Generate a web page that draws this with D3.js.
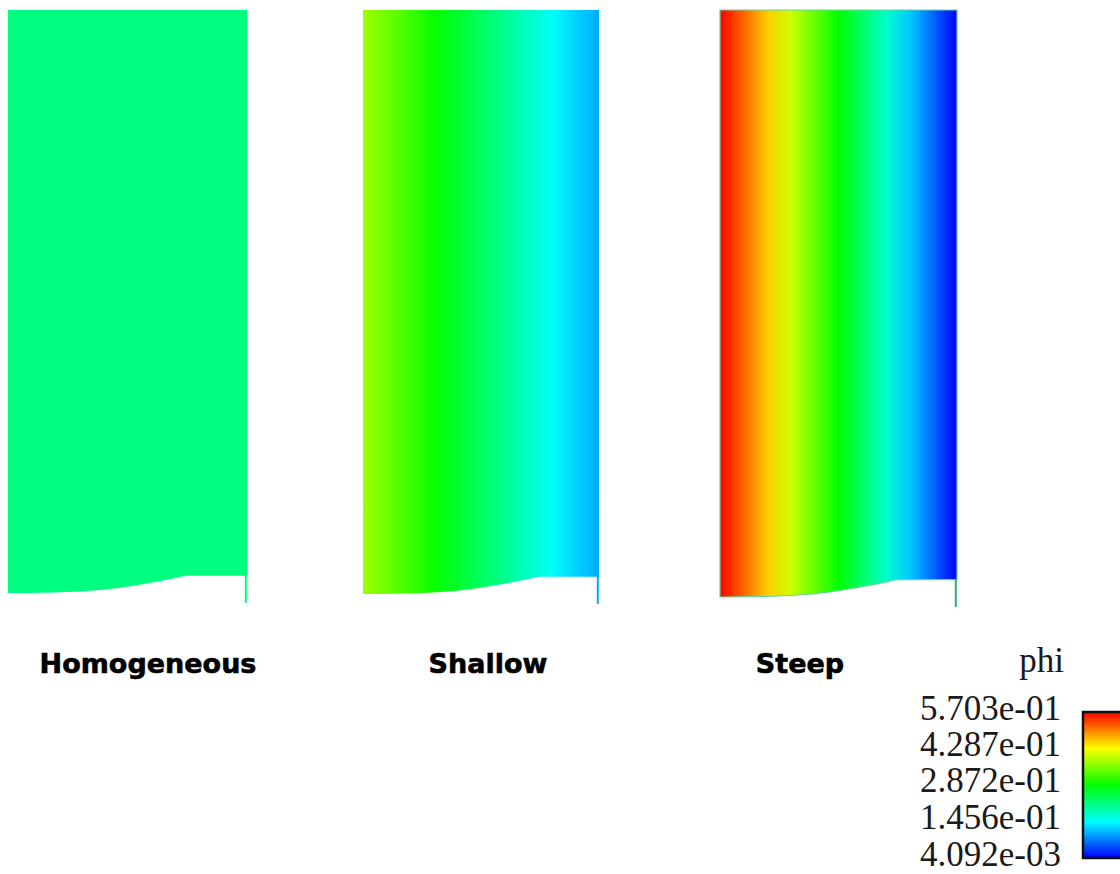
<!DOCTYPE html>
<html>
<head>
<meta charset="utf-8">
<script src="https://cdn.jsdelivr.net/npm/d3@7"></script>
<style>
  body { margin: 0; background: #fff; }
  svg { display: block; }
  .title { font-family: "DejaVu Sans", sans-serif; font-weight: bold; font-size: 27px; fill: #000; stroke: #000; stroke-width: 0.6px; }
  .lgd { font-family: "Liberation Serif", "Times New Roman", serif; font-size: 35px; fill: #1a1a1a; }
</style>
</head>
<body>
<svg id="chart" width="1120" height="874"></svg>
<script>
/** Case names, one per panel */
var caseNames = ['Homogeneous', 'Shallow', 'Steep'];

/** Sample positions across each panel (0 = left wall, 1 = right wall) */
var sampleX = [0, 0.1, 0.2, 0.3, 0.4, 0.5, 0.6, 0.7, 0.8, 0.9, 1];

/** phi at the sample positions */
var phiHomogeneous = [0.216, 0.216, 0.216, 0.216, 0.216, 0.216, 0.216, 0.216, 0.216, 0.216, 0.216];
var phiShallow = [0.376, 0.348, 0.320, 0.292, 0.263, 0.235, 0.207, 0.178, 0.150, 0.122, 0.099];
var phiSteep = [0.570, 0.514, 0.457, 0.400, 0.344, 0.287, 0.231, 0.174, 0.117, 0.061, 0.004];

/** Bottom boundary of the domain (depth as fraction of the left wall height) */
var bottomX = [0, 0.147, 0.248, 0.387, 0.525, 0.639, 0.744];
var bottomDepth = [1, 0.9995, 0.9983, 0.9949, 0.9875, 0.9794, 0.9703];
var rightWallEnd = 1.017;

/** Colour bar */
var phiMin = 4.092e-03, phiMax = 5.703e-01;
var tickValues = [5.703e-01, 4.287e-01, 2.872e-01, 1.456e-01, 4.092e-03];
var tickLabels = ['5.703e-01', '4.287e-01', '2.872e-01', '1.456e-01', '4.092e-03'];
var rainbow = ['#0000ff', '#00ffff', '#00ff00', '#ffff00', '#ff0000'];

var phiData = [phiHomogeneous, phiShallow, phiSteep];

/** Layout of the three panels */
var panels = [
    { x0: 8,   x1: 247, top: 10, bottom: 593, titleX: 148, wall: '#00ff80', outline: 'none' },
    { x0: 363, x1: 599, top: 10, bottom: 594, titleX: 488, wall: '#00a6ff', outline: 'none' },
    { x0: 720, x1: 957, top: 10, bottom: 597, titleX: 800, wall: '#2fae74', outline: '#62d898' }
];
var titleY = 673;

var colorScale = d3.scaleLinear()
    .domain(d3.range(5).map(function (i) { return phiMin + i * (phiMax - phiMin) / 4; }))
    .range(rainbow);

var svg = d3.select('#chart');
var defs = svg.append('defs');

svg.append('rect').attr('width', 1120).attr('height', 874).attr('fill', '#fff');

panels.forEach(function (p, i) {
    var xScale = d3.scaleLinear().domain([0, 1]).range([p.x0, p.x1]);
    var yScale = d3.scaleLinear().domain([0, 1]).range([p.top, p.bottom]);

    // gradient across the panel from the phi samples
    var grad = defs.append('linearGradient')
        .attr('id', 'g' + i)
        .attr('gradientUnits', 'userSpaceOnUse')
        .attr('x1', xScale(0)).attr('x2', xScale(1))
        .attr('y1', 0).attr('y2', 0);
    grad.selectAll('stop')
        .data(sampleX)
        .enter()
        .append('stop')
        .attr('offset', function (d) { return d; })
        .attr('stop-color', function (d, j) { return colorScale(phiData[i][j]); });

    // domain outline: curved bottom, then flat part, right wall, top
    var pts = bottomX.map(function (x, j) { return [xScale(x), yScale(bottomDepth[j])]; });
    var curve = d3.line().curve(d3.curveMonotoneX)(pts);
    var flatY = yScale(bottomDepth[bottomDepth.length - 1]);
    var d = curve +
        'L' + xScale(1) + ',' + flatY +
        'L' + xScale(1) + ',' + yScale(0) +
        'L' + xScale(0) + ',' + yScale(0) + 'Z';

    svg.append('path')
        .attr('d', d)
        .attr('fill', 'url(#g' + i + ')')
        .attr('stroke', p.outline)
        .attr('stroke-width', 1.2);

    // right wall extending below the domain
    svg.append('line')
        .attr('x1', xScale(1) - 1.2).attr('x2', xScale(1) - 1.2)
        .attr('y1', flatY - 1).attr('y2', yScale(rightWallEnd))
        .attr('stroke', p.wall)
        .attr('stroke-width', 2);

    svg.append('text')
        .attr('class', 'title')
        .attr('x', p.titleX)
        .attr('y', titleY)
        .attr('text-anchor', 'middle')
        .text(caseNames[i]);
});

// colour bar
var barX = 1083, barW = 50, barTop = 712, barBottom = 858;
var legendScale = d3.scaleLinear().domain([phiMax, phiMin]).range([barTop, barBottom]);

var lg = defs.append('linearGradient')
    .attr('id', 'legendGrad')
    .attr('x1', 0).attr('x2', 0).attr('y1', 1).attr('y2', 0);
lg.selectAll('stop')
    .data(rainbow)
    .enter()
    .append('stop')
    .attr('offset', function (d, i) { return i / 4; })
    .attr('stop-color', function (d) { return d; });

svg.append('rect')
    .attr('x', barX).attr('y', barTop)
    .attr('width', barW).attr('height', barBottom - barTop)
    .attr('fill', 'url(#legendGrad)')
    .attr('stroke', '#111')
    .attr('stroke-width', 2.5);

svg.selectAll('.lgdTick')
    .data(tickValues)
    .enter()
    .append('text')
    .attr('class', 'lgd lgdTick')
    .attr('x', 1061)
    .attr('y', function (d) { return legendScale(d) + 7.5; })
    .attr('text-anchor', 'end')
    .text(function (d, i) { return tickLabels[i]; });

svg.append('text')
    .attr('class', 'lgd')
    .attr('x', 1064)
    .attr('y', 672)
    .attr('text-anchor', 'end')
    .style('font-size', '35px')
    .text('phi');
</script>
</body>
</html>
